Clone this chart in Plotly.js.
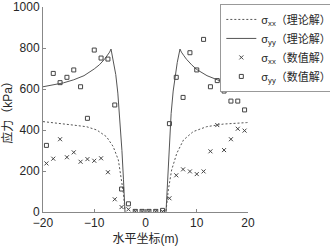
<!DOCTYPE html>
<html><head><meta charset="utf-8">
<script src="https://cdn.plot.ly/plotly-3.0.1.min.js"></script>
<style>html,body{margin:0;padding:0;background:#fff}#c{width:330px;height:246px}</style>
</head><body><div id="c"></div>
<script>
// Theoretical curves (left branch, gap, right branch)
const thX = [-20,-18,-16,-14,-12,-10,-9,-8,-7.5,-7,-6.73,-6.2,-5.8,-5.4,-5.0,-4.6,-4.3,-4.0,null,4.0,4.3,4.6,5.0,5.4,5.8,6.2,6.73,7,7.5,8,9,10,12,14,16,18,20];
const thSyy = [611,620,630,645,665,698,718,745,762,780,795,730,670,580,450,300,160,0,null,0,150,300,480,590,665,730,795,780,762,745,718,695,665,645,630,620,611];
const thXxX = [-20,-16.7,-14.1,-11.5,-9.5,-7.6,-6.3,-5.3,-4.8,-4.3,-4.0,null,4.0,4.1,4.45,5.1,6.1,7.4,9.3,11.9,15.2,19.7,20];
const thSxx = [441,433,424,416,400,367,319,254,172,91,5,null,5,26,107,205,286,351,392,416,429,436,437];
// Numerical solution points
const numX = [-19.33,-18,-16.67,-15.33,-14,-12.67,-11.33,-10,-8.67,-7.33,-6,-4.67,-3.33,-2,-0.67,0.67,2,3.33,4.67,6,7.33,8.67,10,11.33,12.67,14,15.33,16.67,18,19.33];
const numSyy = [325,676,631,657,693,611,457,790,751,746,522,112,40,3,3,3,3,8,431,657,559,777,693,842,611,641,590,541,541,498];
const numSxx = [237,260,355,267,291,245,258,250,262,194,62,24,13,3,3,3,3,3,67,179,208,198,185,198,296,424,302,355,406,397];
const xTicks = [-20,-10,0,10,20];
const yTicks = [0,200,400,600,800,1000];

const F = 'Liberation Sans, Arial, Noto Sans CJK SC, sans-serif';
const traces = [
  {x: thXxX, y: thSxx, mode:'lines', name:'σ<sub>xx</sub>（理论解）', line:{color:'#555', width:1, dash:'2px,2px'}, connectgaps:false},
  {x: thX, y: thSyy, mode:'lines', name:'σ<sub>yy</sub>（理论解）', line:{color:'#555', width:1}, connectgaps:false},
  {x: numX, y: numSxx, mode:'markers', name:'σ<sub>xx</sub>（数值解）', marker:{symbol:'x-thin', size:4, line:{color:'#444', width:1}, color:'#444'}},
  {x: numX, y: numSyy, mode:'markers', name:'σ<sub>yy</sub>（数值解）', marker:{symbol:'square-open', size:4, color:'#444', line:{width:1}}}
];
const layout = {
  width:330, height:246,
  margin:{l:43, r:82, t:7, b:34, autoexpand:false},
  paper_bgcolor:'#fff', plot_bgcolor:'#fff',
  font:{family:F, size:12, color:'#262626'},
  showlegend:true,
  legend:{x:0.865, xanchor:'left', y:1.015, yanchor:'top', bgcolor:'#fff', bordercolor:'#999', borderwidth:1,
          font:{family:F, size:11, color:'#262626'}, tracegroupgap:0, itemwidth:30},
  xaxis:{range:[-20,20], tickvals:xTicks, ticks:'inside', ticklen:3, tickcolor:'#888', showline:true, linecolor:'#888', linewidth:1,
         showgrid:false, zeroline:false, mirror:false, automargin:false,
         title:{text:'水平坐标(m)', font:{family:F, size:12, color:'#262626'}, standoff:6}},
  yaxis:{range:[0,1000], tickvals:yTicks, ticks:'inside', ticklen:3, tickcolor:'#888', showline:true, linecolor:'#888', linewidth:1,
         showgrid:false, zeroline:false, mirror:false, automargin:false,
         title:{text:'应力（kPa）', font:{family:F, size:12, color:'#262626'}, standoff:2}}
};
Plotly.newPlot('c', traces, layout, {staticPlot:true, displayModeBar:false});
</script></body></html>
